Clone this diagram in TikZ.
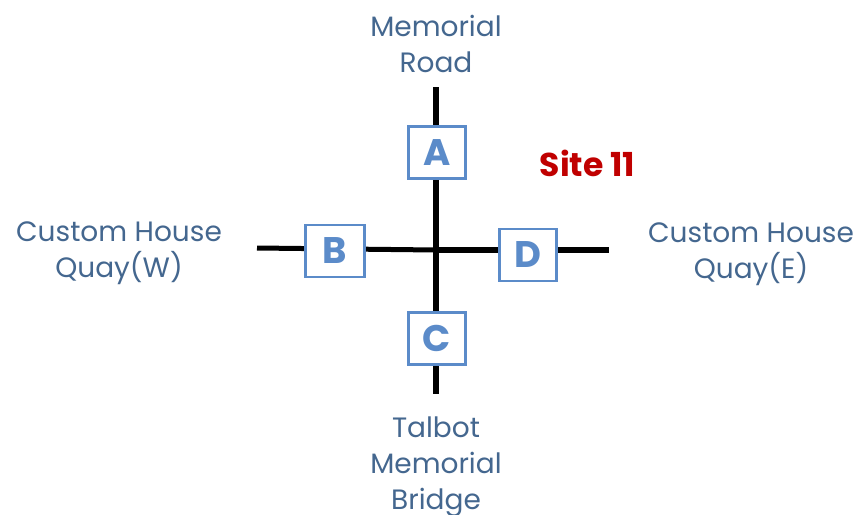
\documentclass[tikz,border=0pt]{standalone}
\usepackage{fontspec}
\setmainfont{Poppins}
\definecolor{lab}{HTML}{44678F}
\definecolor{boxc}{HTML}{5B8BC9}
\definecolor{sitec}{HTML}{C00000}
\tikzset{
  road/.style={line width=6.4pt,black},
  thinroad/.style={line width=5pt,black},
  letterbox/.style={draw=boxc,line width=2.2pt,fill=white,inner sep=0pt,text=boxc,font=\fontsize{37}{37}\selectfont\bfseries,anchor=center},
  lab/.style={text=lab,font=\fontsize{28}{36}\selectfont,align=center,inner sep=0pt}
}
\begin{document}
\begin{tikzpicture}[x=1pt,y=-1pt]
\useasboundingbox[fill=white] (0,0) rectangle (858,514);
\coordinate (n) at (436,87);
\coordinate (s) at (436,394);
\coordinate (w) at (257,248);
\coordinate (e) at (609,250);
\coordinate (x) at (436,250);
\draw[thinroad] (w) -- (x);
\draw[road] (x) -- (e);
\draw[road] (n) -- (s);
\node[letterbox,minimum width=57pt,minimum height=52pt] (A) at (437,152.5) {A};
\node[letterbox,minimum width=59pt,minimum height=52pt] (B) at (335,251) {B};
\node[letterbox,minimum width=57pt,minimum height=52pt] (C) at (437,338.5) {C};
\node[letterbox,minimum width=57pt,minimum height=52pt] (D) at (528,255) {D};
\node[lab] (t1) at (436,43.5) {Memorial\\Road};
\node[lab] (t2) at (119,253) {Custom House\\Quay(W)};
\node[lab] (t3) at (751,254) {Custom House\\Quay(E)};
\node[lab] (t4) at (436,467) {Talbot\\Memorial\\Bridge};
\node[text=sitec,font=\fontsize{33}{36}\selectfont\bfseries,inner sep=0pt] (site) at (587.5,163.5) {Site 11};
\end{tikzpicture}
\end{document}
